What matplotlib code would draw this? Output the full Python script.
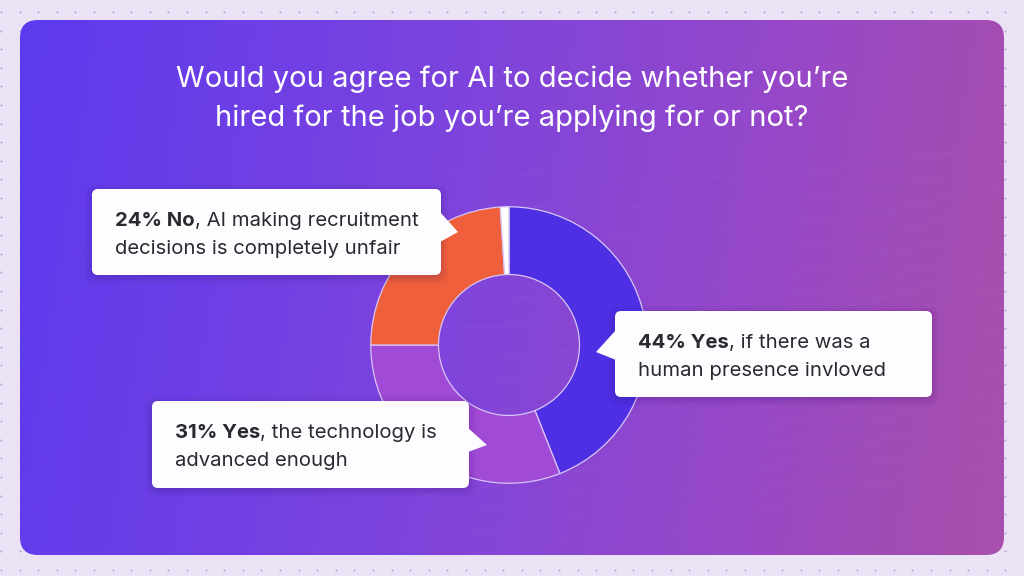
import matplotlib
matplotlib.use("Agg")
import matplotlib.pyplot as plt
import numpy as np
from matplotlib.patches import FancyBboxPatch, Polygon
from matplotlib.colors import LinearSegmentedColormap

# ---- data ----
title_lines = ["Would you agree for AI to decide whether you\u2019re",
               "hired for the job you\u2019re applying for or not?"]
categories = ["Yes, if there was a human presence invloved",
              "Yes, the technology is advanced enough",
              "No, AI making recruitment decisions is completely unfair",
              "Other"]
values = [44, 31, 24, 1]
colors = ["#4e2fe4", "#a04ad6", "#f05f3b", "#ffffff"]
bold_parts = ["44% Yes", "31% Yes", "24% No"]
label_lines = [
    [", if there was a", "human presence invloved"],
    [", the technology is", "advanced enough"],
    [", AI making recruitment", "decisions is completely unfair"],
]

W, H = 1024, 576
fig = plt.figure(figsize=(W / 100, H / 100), dpi=100)
fig.patch.set_facecolor("#ece2f5")
ax = fig.add_axes([0, 0, 1, 1])
ax.set_xlim(0, W)
ax.set_ylim(H, 0)
ax.axis("off")

# dotted outer background
xs = np.arange(1, W, 18.6)
ys = np.arange(12, H, 18.6)
gx, gy = np.meshgrid(xs, ys)
ax.scatter(gx.ravel(), gy.ravel(), s=2.2, color="#b8a5de", zorder=0, linewidths=0)

# panel with gradient
panel = FancyBboxPatch((20, 20), 984, 535, boxstyle="round,pad=0,rounding_size=18",
                       facecolor="none", edgecolor="none", zorder=1)
ax.add_patch(panel)
cmap = LinearSegmentedColormap.from_list("bg", [(0, "#5d3aee"), (0.45, "#7e44dc"),
                                                (0.75, "#9648c8"), (1.0, "#a74fae")])
gx2 = np.linspace(0, 1, 400)
gy2 = np.linspace(0, 1, 200)
GX, GY = np.meshgrid(gx2, gy2)
grad = np.clip(GX * 0.95 + GY * 0.08, 0, 1)
im = ax.imshow(grad, cmap=cmap, extent=[20, 1004, 555, 20], aspect="auto", zorder=1,
               interpolation="bilinear")
im.set_clip_path(panel)

# faint wave lines (decoration)
t = np.linspace(420, 1004, 200)
for k in range(16):
    yy = 170 + k * 26 + 40 * np.sin((t - 420) / 260 + k * 0.15) - (t - 420) * 0.1
    ln, = ax.plot(t, yy, color="white", alpha=0.035, lw=0.8, zorder=1.5)
    ln.set_clip_path(panel)

# title
for i, line in enumerate(title_lines):
    ax.text(512, 79 + i * 39, line, color="white", fontsize=21, family="Inter",
            ha="center", va="center", zorder=5)

# donut
cx, cy, r = 509, 345, 141
pax = fig.add_axes([(cx - r) / W, 1 - (cy + r) / H, 2 * r / W, 2 * r / H])
pax.pie(values, colors=colors, startangle=90, counterclock=False,
        wedgeprops=dict(width=0.49, edgecolor="#d7c6f6", linewidth=0.9))
pax.set_xlim(-1.02, 1.02)
pax.set_ylim(-1.02, 1.02)
pax.set_aspect("equal")
pax.axis("off")

# callout boxes (drawn in an overlay axes)
oax = fig.add_axes([0, 0, 1, 1])
oax.set_xlim(0, W)
oax.set_ylim(H, 0)
oax.axis("off")
oax.patch.set_alpha(0)

boxes = [
    dict(x=615, y=311, w=317, h=86, tri=[(616, 330), (616, 360), (596, 352)]),
    dict(x=152, y=401, w=317, h=87, tri=[(468, 428), (468, 452), (487, 445)]),
    dict(x=92, y=189, w=349, h=86, tri=[(440, 212), (440, 242), (458, 232)]),
]

renderer = fig.canvas.get_renderer()
FS = 14.6
for b, bold, lines in zip(boxes, bold_parts, label_lines):
    for s, a in [(8, 0.03), (6, 0.04), (4, 0.05), (2, 0.06)]:
        sh = FancyBboxPatch((b["x"] - s + 1, b["y"] - s + 3), b["w"] + 2 * s - 2, b["h"] + 2 * s - 2,
                            boxstyle="round,pad=0,rounding_size=10", facecolor="#2a0a60",
                            edgecolor="none", alpha=a, zorder=3)
        oax.add_patch(sh)
    oax.add_patch(FancyBboxPatch((b["x"], b["y"]), b["w"], b["h"],
                                 boxstyle="round,pad=0,rounding_size=6",
                                 facecolor="#fdfcff", edgecolor="none", zorder=4))
    oax.add_patch(Polygon(b["tri"], closed=True, facecolor="#fdfcff", edgecolor="none", zorder=4))
    tx = b["x"] + 23
    ty1 = b["y"] + 32
    ty2 = b["y"] + 60
    t1 = oax.text(tx, ty1, bold, fontsize=FS, family="Inter", fontweight="bold",
                  color="#2a2a2e", ha="left", va="center", zorder=6)
    bb = t1.get_window_extent(renderer=renderer)
    oax.text(tx + bb.width, ty1, lines[0], fontsize=FS, family="Inter",
             color="#2a2a2e", ha="left", va="center", zorder=6)
    oax.text(tx, ty2, lines[1], fontsize=FS, family="Inter",
             color="#2a2a2e", ha="left", va="center", zorder=6)

fig.savefig("out.png", dpi=100, facecolor=fig.get_facecolor())
